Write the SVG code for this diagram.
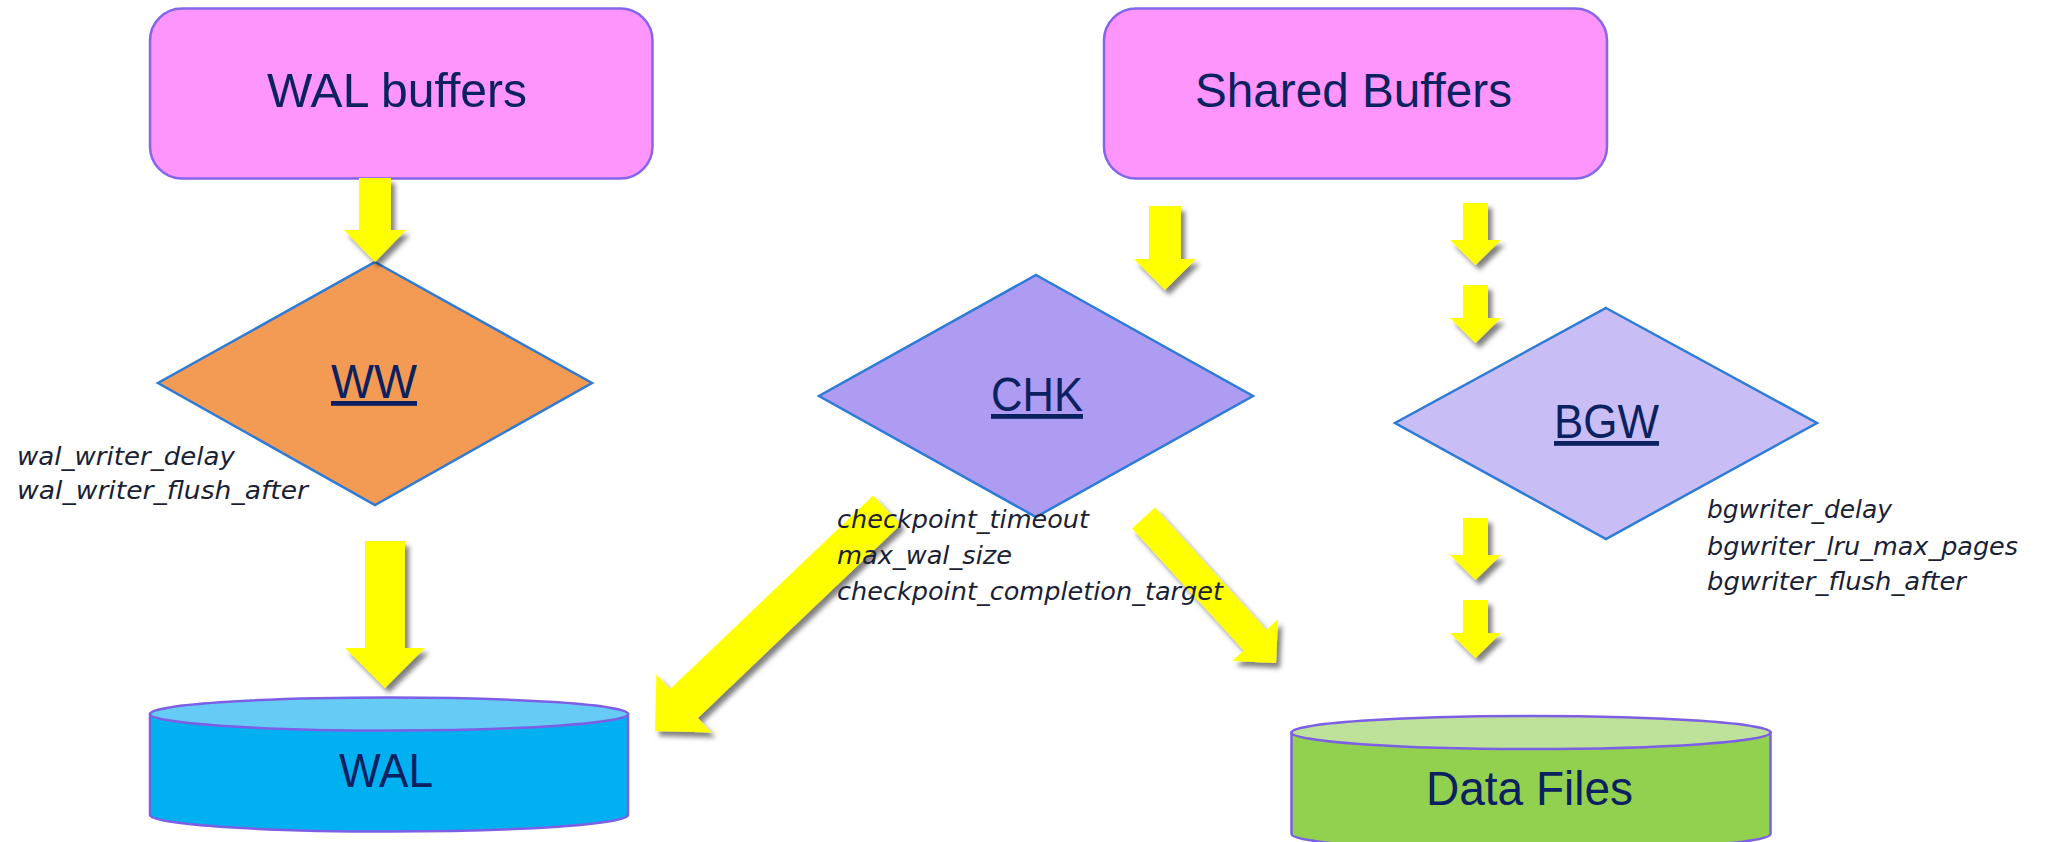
<svg xmlns="http://www.w3.org/2000/svg" width="2045" height="842" viewBox="0 0 2045 842">
<defs>
<filter id="sh" x="-30%" y="-30%" width="160%" height="160%">
<feDropShadow dx="4" dy="5" stdDeviation="2.5" flood-color="#000" flood-opacity="0.5"/>
</filter>
<style>
.box{fill:#FD95FD;stroke:#8466E8;stroke-width:2.5}
.dia{stroke:#2E7BD6;stroke-width:2.5}
.cyl{stroke:#7D5FE6;stroke-width:2.5}
.big{font-family:"Liberation Sans",Arial,sans-serif;font-size:48px;fill:#0B2160}
.und{text-decoration:underline}
.lbl{font-family:"DejaVu Sans",Verdana,sans-serif;font-style:italic;font-size:25px;fill:#1B1F36}
.arr{fill:#FFFF00;filter:url(#sh)}
</style>
</defs>
<rect width="2045" height="842" fill="#FFFFFF"/>

<g id="wal_buffers">
<rect class="box" x="150" y="8.5" width="502.5" height="170" rx="32"/>
<text class="big" x="267" y="107" textLength="260" lengthAdjust="spacingAndGlyphs">WAL buffers</text>
</g>

<g id="shared_buffers">
<rect class="box" x="1104" y="8.5" width="503" height="170" rx="32"/>
<text class="big" x="1195" y="107" textLength="317" lengthAdjust="spacingAndGlyphs">Shared Buffers</text>
</g>

<g id="ww">
<polygon class="dia" fill="#F39A55" points="375,262 592,383 375,505 158,383"/>
<text class="big und" x="331" y="398" textLength="86" lengthAdjust="spacingAndGlyphs">WW</text>
</g>

<g id="chk">
<polygon class="dia" fill="#AE9BF2" points="1036,275 1253,396 1036,517 819,396"/>
<text class="big und" x="991" y="411" textLength="92" lengthAdjust="spacingAndGlyphs">CHK</text>
</g>

<g id="bgw">
<polygon class="dia" fill="#C9BDF5" points="1606,308 1817,423 1606,539 1395,423"/>
<text class="big und" x="1554" y="438" textLength="105" lengthAdjust="spacingAndGlyphs">BGW</text>
</g>

<g id="wal">
<path class="cyl" fill="#00B0F0" d="M150,714 L150,815 A239,16.5 0 0 0 628,815 L628,714 Z"/>
<ellipse class="cyl" fill="#66CCF5" cx="389" cy="714" rx="239" ry="16.5"/>
<text class="big" x="339" y="787" textLength="94" lengthAdjust="spacingAndGlyphs">WAL</text>
</g>

<g id="data_files">
<path class="cyl" fill="#92D050" d="M1291.5,732.5 L1291.5,834 A239.5,16.5 0 0 0 1770.5,834 L1770.5,732.5 Z"/>
<ellipse class="cyl" fill="#BFE29A" cx="1531" cy="732.5" rx="239.5" ry="16.5"/>
<text class="big" x="1426" y="805" textLength="207" lengthAdjust="spacingAndGlyphs">Data Files</text>
</g>

<g id="connectors">
<polygon class="arr" points="359,178 391,178 391,230 406,230 375,262 344,230 359,230"/>
<polygon class="arr" points="365,541 405,541 405,648 425,648 385,688 345,648 365,648"/>
<polygon class="arr" points="1149,206 1181,206 1181,259 1196,259 1165,290 1134,259 1149,259"/>
<polygon class="arr" points="1463,203 1488,203 1488,240 1501,240 1475.5,265 1450,240 1463,240"/>
<polygon class="arr" points="1463,285 1488,285 1488,318 1501,318 1475.5,343 1450,318 1463,318"/>
<polygon class="arr" points="1463,518 1488,518 1488,555 1501,555 1475.5,580 1450,555 1463,555"/>
<polygon class="arr" points="1463,600 1488,600 1488,633 1501,633 1475.5,658 1450,633 1463,633"/>
<polygon class="arr" points="873.2,495.5 900.8,524.5 697.8,717.9 711.6,732.4 655,731 656.4,674.5 670.2,688.9"/>
<polygon class="arr" points="1154.9,507.5 1266.5,629.7 1278,619.2 1276,663 1232.2,661 1243.7,650.6 1132.1,528.5"/>
</g>

<g id="labels">
<text class="lbl" x="17" y="465" textLength="218" lengthAdjust="spacingAndGlyphs">wal_writer_delay</text>
<text class="lbl" x="17" y="499" textLength="291" lengthAdjust="spacingAndGlyphs">wal_writer_flush_after</text>
<text class="lbl" x="837" y="528" textLength="252" lengthAdjust="spacingAndGlyphs">checkpoint_timeout</text>
<text class="lbl" x="837" y="564" textLength="175" lengthAdjust="spacingAndGlyphs">max_wal_size</text>
<text class="lbl" x="837" y="600" textLength="386" lengthAdjust="spacingAndGlyphs">checkpoint_completion_target</text>
<text class="lbl" x="1707" y="518" textLength="185" lengthAdjust="spacingAndGlyphs">bgwriter_delay</text>
<text class="lbl" x="1707" y="555" textLength="311" lengthAdjust="spacingAndGlyphs">bgwriter_lru_max_pages</text>
<text class="lbl" x="1707" y="590" textLength="259" lengthAdjust="spacingAndGlyphs">bgwriter_flush_after</text>
</g>
</svg>
